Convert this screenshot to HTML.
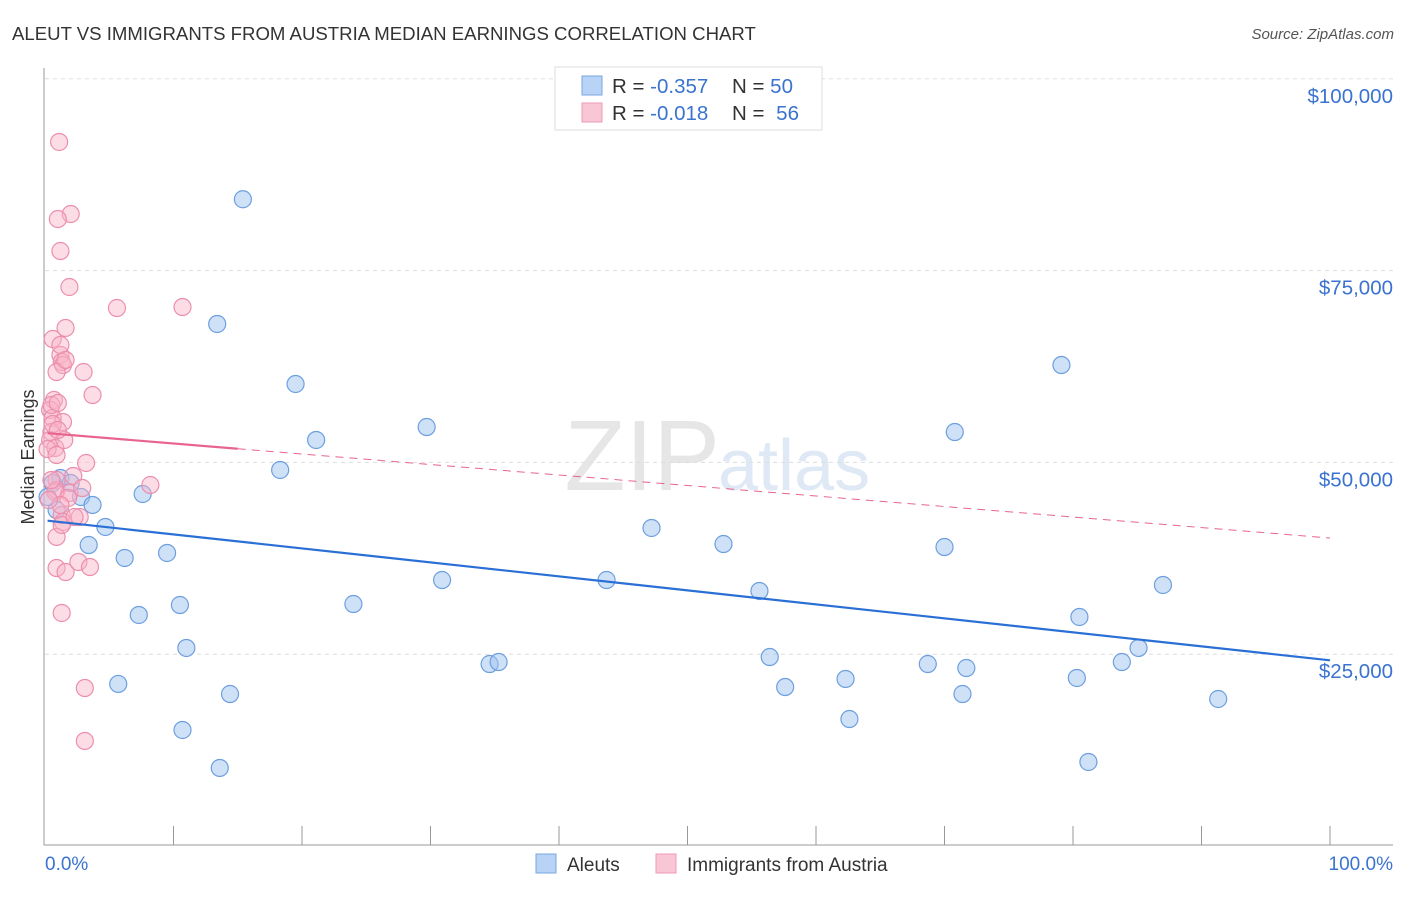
<!DOCTYPE html>
<html><head><meta charset="utf-8"><style>
body{margin:0;background:#fff;font-family:"Liberation Sans",sans-serif;}
svg text{font-family:"Liberation Sans",sans-serif;}
</style></head><body>
<svg id="chart" width="1406" height="892">
<text x="12" y="40" font-size="18.6" fill="#333">ALEUT VS IMMIGRANTS FROM AUSTRIA MEDIAN EARNINGS CORRELATION CHART</text>
<text x="1394" y="39" font-size="15" fill="#555" text-anchor="end" font-style="italic">Source: ZipAtlas.com</text>
<text x="720" y="490" font-size="100" fill="#e6e6e6" text-anchor="end" font-family="Liberation Serif">ZIP</text>
<text x="718" y="490" font-size="72" fill="#dfe8f5">atlas</text>
<text x="34" y="457" font-size="18" fill="#333" text-anchor="middle" transform="rotate(-90 34 457)">Median Earnings</text>
<g id="grid"></g><g id="axes"></g><g id="pts"></g><g id="trend"></g>
<g>
<rect x="555" y="67" width="267" height="63" fill="#fff" stroke="#ddd"/>
<rect x="582" y="76" width="20" height="19" fill="#b8d3f5" stroke="#7aa7e0"/>
<rect x="582" y="103" width="20" height="19" fill="#f9c6d6" stroke="#ee99b4"/>
<text x="612" y="93" font-size="20.5" fill="#333">R = <tspan fill="#3a73d0">-0.357</tspan></text>
<text x="732" y="93" font-size="20.5" fill="#333">N = <tspan fill="#3a73d0">50</tspan></text>
<text x="612" y="120" font-size="20.5" fill="#333">R = <tspan fill="#3a73d0">-0.018</tspan></text>
<text x="732" y="120" font-size="20.5" fill="#333">N = <tspan fill="#3a73d0" dx="6">56</tspan></text>
</g>
<g>
<rect x="536" y="854" width="20" height="19" fill="#b8d3f5" stroke="#7aa7e0"/>
<text x="567" y="871" font-size="19" fill="#333">Aleuts</text>
<rect x="656" y="854" width="20" height="19" fill="#f9c6d6" stroke="#ee99b4"/>
<text x="687" y="871" font-size="19" fill="#333">Immigrants from Austria</text>
</g>
<text x="45" y="870" font-size="19" fill="#3a73d0">0.0%</text>
<text x="1393" y="870" font-size="19" fill="#3a73d0" text-anchor="end">100.0%</text>
</svg>
<script>
const yTicks=[25000,50000,75000,100000];
const yTickLabels=["$25,000","$50,000","$75,000","$100,000"];
const blueX=[15.4,13.4,19.5,21.1,29.7,18.3,7.6,1.2,2.0,2.8,3.7,0.9,0.2,4.7,3.4,6.2,9.5,7.3,10.5,11.0,5.7,14.4,10.7,13.6,24.0,30.9,34.6,35.3,43.7,47.2,52.8,55.6,56.4,57.6,62.3,62.6,68.7,70.0,70.8,71.4,71.7,79.1,80.5,80.3,81.2,83.8,85.1,87.0,91.3,0.6];
const blueY=[84300,68040,60220,52920,54610,49010,45880,47970,47310,45490,44450,43790,45490,41580,39230,37540,38190,30110,31410,25810,21120,19810,15120,10170,31540,34670,23720,23980,34670,41450,39360,33240,24630,20720,21770,16550,23720,38970,53960,19810,23200,62690,29850,21900,10950,23980,25810,34020,19160,47310];
const pinkX=[1.1,1.2,2.0,1.0,1.9,5.6,10.7,1.6,0.6,1.2,1.3,1.4,0.9,3.0,3.7,0.7,0.4,0.6,1.4,0.5,0.4,0.8,3.2,0.9,2.2,8.2,0.9,1.9,2.9,1.3,2.7,1.4,0.9,1.3,0.9,1.6,2.6,3.5,1.3,3.1,3.1,0.2,0.6,1.2,1.6,0.5,1.0,0.8,1.8,1.2,2.3,0.5,0.3,0.9,1.5,1.0];
const pinkY=[91760,77550,82370,81720,72860,70120,70250,67520,66080,64000,63080,62690,61780,61780,58780,58130,56830,55790,55260,53960,52920,51880,49920,47700,48230,47050,46400,46010,46660,43140,42880,42230,40280,41840,36230,35710,37020,36360,30370,20590,13690,51740,55000,65300,63350,57480,57740,46140,45360,44450,42880,47700,45100,50960,52920,54220];
const blueTrend=[42400,24200];
const pinkTrend=[53830,40140];
const NS="http://www.w3.org/2000/svg";
const X=v=>45+v*12.85, Y=v=>846-v/130.34;
function mk(t,a,p){const e=document.createElementNS(NS,t);for(const k in a)e.setAttribute(k,a[k]);document.getElementById(p).appendChild(e);return e;}
yTicks.forEach((t,i)=>{
 const g=mk('line',{x1:45,x2:1393,y1:Y(t),y2:Y(t),stroke:'#ddd','stroke-dasharray':'4,4'},'grid');
 
 
 const l=mk('text',{x:1393,y:Y(t)+24,'font-size':20.5,fill:'#3a73d0','text-anchor':'end'},'grid');
 l.textContent=yTickLabels[i];
 
 
});
const ya=mk('line',{x1:44,x2:44,y1:68,y2:845,stroke:'#999'},'axes');


const xa=mk('line',{x1:44,x2:1393,y1:845,y2:845,stroke:'#999'},'axes');


for(let i=1;i<=10;i++){const t=mk('line',{x1:X(i*10),x2:X(i*10),y1:826,y2:845,stroke:'#999'},'axes');
 
 }
blueX.forEach((x,i)=>{const c=mk('circle',{cx:X(x),cy:Y(blueY[i]),r:8.5,fill:'rgba(160,195,240,0.5)',stroke:'#6d9fe0','stroke-width':1.2},'pts');
 
 });
pinkX.forEach((x,i)=>{const c=mk('circle',{cx:X(x),cy:Y(pinkY[i]),r:8.5,fill:'rgba(248,180,200,0.45)',stroke:'#ec8fae','stroke-width':1.2},'pts');
 
 });
const bt=mk('line',{x1:X(0.2),y1:Y(blueTrend[0]),x2:X(100),y2:Y(blueTrend[1]),stroke:'#2a6fd6','stroke-width':2.2},'trend');


const pm=v=>pinkTrend[0]+(pinkTrend[1]-pinkTrend[0])*v/100;
const pt=mk('line',{x1:X(0.2),y1:Y(pm(0.2)),x2:X(15),y2:Y(pm(15)),stroke:'#e8648e','stroke-width':2.2},'trend');


const pd=mk('line',{x1:X(15),y1:Y(pm(15)),x2:X(100),y2:Y(pm(100)),stroke:'#e8648e','stroke-width':1,'stroke-dasharray':'8,6'},'trend');


</script>
</body></html>
